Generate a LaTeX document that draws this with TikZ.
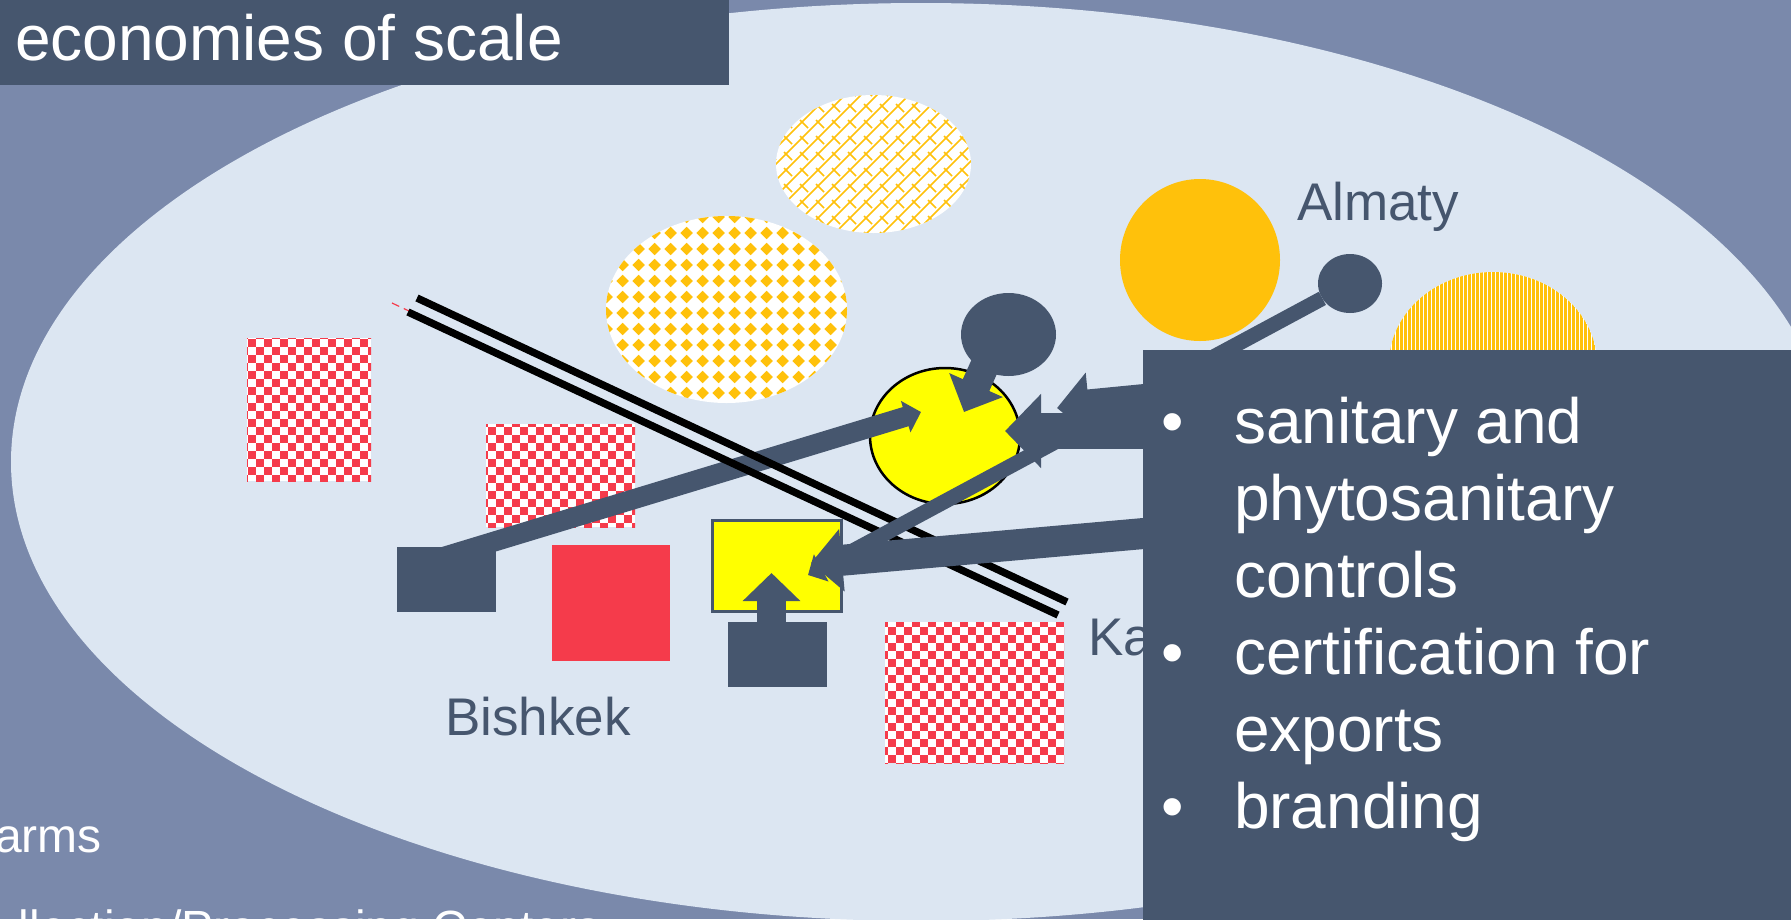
\documentclass[tikz,border=0pt]{standalone}
\usepackage{fontspec}
\setmainfont{Liberation Sans}
\usetikzlibrary{arrows.meta,shapes.geometric}
\definecolor{bgblue}{HTML}{7A89AB}
\definecolor{paleblue}{HTML}{DCE6F2}
\definecolor{slate}{HTML}{46566E}
\definecolor{redc}{HTML}{F53B4B}
\definecolor{orangec}{HTML}{FFC10B}
\definecolor{yellowc}{rgb}{1,1,0}
\tikzset{
  box/.style={rectangle,draw=none,inner sep=0pt,outer sep=0pt},
  oval/.style={ellipse,draw=none,inner sep=0pt,outer sep=0pt},
  txt/.style={anchor=base west,inner sep=0pt,outer sep=0pt,font=\fontsize{#1}{#1}\selectfont},
  slatetxt/.style={txt=53,text=slate},
  whitetxt/.style={txt=64,text=white},
  smalltxt/.style={txt=48,text=white},
  blockarrow/.style n args={3}{draw=slate,line width=#1pt,line cap=butt,
     -{Triangle[length=#2pt,width=#3pt,fill=slate]}},
  rail/.style={draw=black,line width=7.4pt,line cap=butt},
}
% checker: x1 y1 x2 y2 red-start-x red-start-y (top-left corner of a red cell)
\newcommand{\mychecker}[6]{%
  \begin{scope}
    \clip (#1,#2) rectangle (#3,#4);
    \foreach \ci in {0,...,24}{\foreach \cj in {0,...,20}{%
      \pgfmathtruncatemacro{\cm}{mod(\ci+\cj,2)}%
      \ifnum\cm=0
        \fill[redc] ({#5+8*(\ci-2)},{#6+8*(\cj-2)}) rectangle ++(8,8);
      \fi}}
  \end{scope}}
\begin{document}
\begin{tikzpicture}[x=1pt,y=-1pt]
\useasboundingbox (0,0) rectangle (1791,919);
\fill[bgblue] (0,0) rectangle (1791,919);
\node[oval,fill=paleblue,minimum width=1820pt,minimum height=918pt] (land) at (921,462) {};

% checkered squares
\node[box,fill=white,minimum width=124pt,minimum height=143pt] (chkA) at (309,409.5) {};
\mychecker{247}{338}{371}{481}{248}{339.3}
\node[box,fill=white,minimum width=149pt,minimum height=103pt] (chkB) at (560.5,475.5) {};
\mychecker{486}{424}{635}{527}{488}{427.3}
\node[box,fill=white,minimum width=179pt,minimum height=141pt] (chkC) at (974.5,692.5) {};
\mychecker{885}{622}{1064}{763}{888}{627.3}

% diamond ellipse
\node[oval,fill=white,minimum width=241pt,minimum height=187pt] (diaE) at (726.5,309.5) {};
\begin{scope}
  \clip (726.5,309.5) ellipse [x radius=120.5,y radius=93.5];
  \foreach \di in {-9,...,8}{\foreach \dj in {-6,...,6}{%
    \fill[orangec] ({718.67+16*\di-6.2},{297+16*\dj}) -- ++(6.2,-6.2) -- ++(6.2,6.2) -- ++(-6.2,6.2) -- cycle;}}
\end{scope}

% trellis ellipse
\node[oval,fill=white,minimum width=195pt,minimum height=138pt] (treE) at (873.5,164) {};
\begin{scope}
  \clip (873.5,164) ellipse [x radius=97.5,y radius=69];
  \foreach \ti in {-8,...,32}{
    \draw[orangec,line width=1.7pt] ({700+16*\ti},80) -- ++(-170,170);}
  \foreach \ti in {0,...,15}{\foreach \tj in {0,...,11}{
    \draw[orangec,line width=1.7pt] ({768+16*\ti},{88+16*\tj}) -- ++(8,8);}}
\end{scope}

% stripes ellipse
\node[oval,fill=white,minimum width=208pt,minimum height=184pt] (strE) at (1493,364) {};
\begin{scope}
  \clip (1493,364) ellipse [x radius=104,y radius=92];
  \foreach \si in {0,...,52}{
    \fill[orangec] ({1388+4*\si},265) rectangle ++(2.6,100);}
\end{scope}

% solid shapes
\node[oval,fill=orangec,minimum width=160pt,minimum height=162pt] (orgC) at (1200,260) {};
\node[oval,fill=yellowc,draw=black,line width=2.5pt,minimum width=150pt,minimum height=136pt] (yelC) at (945,436) {};
\node[box,fill=yellowc,draw=slate,line width=3pt,minimum width=129pt,minimum height=91pt] (yelR) at (776.5,565.5) {};
\node[box,fill=redc,minimum width=118pt,minimum height=116pt] (redR) at (611,603) {};

% dark terminals
\node[box,fill=slate,minimum width=99pt,minimum height=65pt] (sqA) at (446.5,579.5) {};
\node[box,fill=slate,minimum width=99pt,minimum height=65pt] (sqB) at (777.5,654.5) {};
\node[oval,fill=slate,minimum width=95pt,minimum height=83pt] (ovA) at (1008.5,334.5) {};
\node[oval,fill=slate,minimum width=64pt,minimum height=59pt] (ovB) at (1350,283.5) {};

% connector ends
\coordinate (a1) at (440,558);
\coordinate (a2) at (921,412);
\coordinate (b1) at (994,345);
\coordinate (b2) at (964,412);
\coordinate (up1) at (771.5,630);
\coordinate (up2) at (771.5,573);
\coordinate (c1s) at (1160,398);
\coordinate (c1e) at (1057,408);
\coordinate (c2s) at (1160,431);
\coordinate (c2e) at (1005,431);
\coordinate (c4s) at (1200,528.5);
\coordinate (c4e) at (811,563);
\coordinate (c3e) at (808,575);
\coordinate (r1a) at (417,298);
\coordinate (r1b) at (1067,602);
\coordinate (r2a) at (408,312);
\coordinate (r2b) at (1058,615);
\coordinate (d1) at (392,303);
\coordinate (d2) at (409,311);

\draw[blockarrow={20}{16}{32}] (a1) -- (a2);
\draw[blockarrow={29}{29.5}{57}] (b1) -- (b2);
\draw[blockarrow={29}{28}{56}] (up1) -- (up2);

\draw[redc,line width=1.2pt,dash pattern=on 8pt off 5pt] (d1) -- (d2);
\draw[rail] (r1a) -- (r1b);
\draw[rail] (r2a) -- (r2b);

\draw[blockarrow={15}{15}{30}] (ovB) -- (c3e);
\draw[blockarrow={31}{32}{63}] (c1s) -- (c1e);
\draw[blockarrow={36}{36}{72}] (c2s) -- (c2e);
\draw[blockarrow={31}{31}{61}] (c4s) -- (c4e);

% labels
\node[slatetxt] (almaty) at (1297,220) {Almaty};
\node[slatetxt] (bishkek) at (445,735) {Bishkek};
\node[slatetxt] (ka) at (1088,655) {Ka};

% text panel
\node[box,fill=slate,minimum width=700pt,minimum height=620pt,anchor=north west] (panel) at (1143,350) {};
\node[whitetxt] (b1t) at (1161,443) {•};
\node[whitetxt] (t1) at (1234,443) {sanitary and};
\node[whitetxt] (t2) at (1234,520) {phytosanitary};
\node[whitetxt] (t3) at (1234,597) {controls};
\node[whitetxt] (b2t) at (1161,674) {•};
\node[whitetxt] (t4) at (1234,674) {certification for};
\node[whitetxt] (t5) at (1234,751) {exports};
\node[whitetxt] (b3t) at (1161,828) {•};
\node[whitetxt] (t6) at (1234,828) {branding};

% title
\node[box,fill=slate,minimum width=729pt,minimum height=85pt,anchor=north west] (titlebar) at (0,0) {};
\node[whitetxt] (title) at (15,60) {economies of scale};

% bottom legend
\node[smalltxt] (leg1) at (-5,852) {arms};
\node[smalltxt] (leg2) at (19,944) {llection/Processing Centers};
\end{tikzpicture}
\end{document}
